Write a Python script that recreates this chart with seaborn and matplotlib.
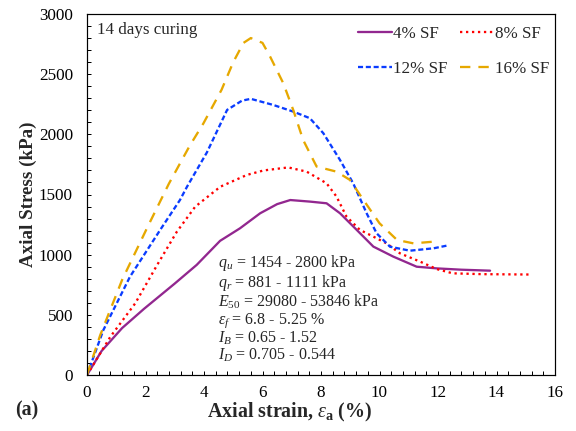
import numpy as np
import pandas as pd
import matplotlib
matplotlib.use("Agg")
import matplotlib.pyplot as plt
from matplotlib.ticker import MultipleLocator
import seaborn as sns

# Stress-strain curves, 14 days curing
strain_4 = [0, 0.5, 1.2, 1.95, 3.0, 3.75, 4.55, 5.23, 5.92, 6.5, 6.95, 7.62, 8.19, 8.65, 9.22, 9.79, 10.47, 11.27, 11.96, 12.8, 13.78]
stress_4 = [0, 200, 390, 550, 760, 915, 1115, 1219, 1344, 1420, 1454, 1441, 1427, 1344, 1206, 1067, 984, 900, 886, 875, 867]

strain_8 = [0, 0.8, 1.65, 2.4, 3.07, 3.7, 4.56, 5.47, 6.04, 6.88, 7.51, 8.19, 8.53, 8.87, 9.33, 9.79, 10.24, 10.7, 11.39, 11.96, 12.5, 13.5, 15.15]
stress_8 = [0, 318, 596, 915, 1190, 1399, 1565, 1663, 1700, 1725, 1690, 1593, 1483, 1317, 1206, 1150, 1094, 1011, 942, 880, 845, 838, 835]

strain_12 = [0, 0.56, 1.47, 2.5, 3.18, 3.42, 4.1, 4.79, 5.3, 5.6, 6.37, 7.05, 7.62, 8.08, 8.65, 9.1, 9.56, 9.9, 10.36, 11.04, 11.85, 12.3]
stress_12 = [0, 374, 817, 1205, 1455, 1565, 1850, 2203, 2280, 2295, 2244, 2189, 2134, 2009, 1787, 1593, 1344, 1178, 1066, 1033, 1053, 1075]

strain_16 = [0, 0.45, 1.2, 2.07, 2.8, 3.5, 3.98, 4.6, 5.0, 5.35, 5.6, 6.0, 6.26, 6.71, 7.05, 7.39, 7.85, 8.53, 8.99, 9.45, 10.0, 10.6, 11.16, 11.85, 12.0]
stress_16 = [0, 330, 790, 1230, 1590, 1900, 2091, 2370, 2600, 2760, 2800, 2760, 2646, 2425, 2203, 1953, 1732, 1690, 1621, 1455, 1261, 1122, 1094, 1108, 1111]

labels = ["4% SF", "8% SF", "12% SF", "16% SF"]
colors = ["#92278F", "#FF0000", "#0A3CFF", "#E6A800"]

summary = [
    r"$q_u$ = 1454 - 2800 kPa",
    r"$q_r$ = 881 - 1111 kPa",
    r"$E_{50}$ = 29080 - 53846 kPa",
    r"$\varepsilon_f$ = 6.8 - 5.25 %",
    r"$I_B$ = 0.65 - 1.52",
    r"$I_D$ = 0.705 - 0.544",
]

sns.set_style("ticks")
plt.rcParams["font.family"] = ["Liberation Serif", "DejaVu Serif"]
plt.rcParams["mathtext.fontset"] = "custom"
plt.rcParams["mathtext.rm"] = "Liberation Serif"
plt.rcParams["mathtext.it"] = "Liberation Serif:italic"
plt.rcParams["mathtext.bf"] = "Liberation Serif:bold"

fig = plt.figure(figsize=(8, 431 / 72), dpi=72)
ax = fig.add_axes([87 / 576, 1 - 375 / 431, (555 - 87) / 576, (375 - 14) / 431])

series = [(strain_4, stress_4), (strain_8, stress_8), (strain_12, stress_12), (strain_16, stress_16)]
styles = [
    dict(linestyle="-", linewidth=2.3),
    dict(linestyle=(0, (1, 1.6)), linewidth=2.3),
    dict(linestyle=(0, (2.2, 1.2)), linewidth=2.3),
    dict(linestyle=(0, (4.5, 3.5)), linewidth=2.3),
]
for (xs, ys), lab, col, st in zip(series, labels, colors, styles):
    df = pd.DataFrame({"strain": xs, "stress": ys})
    sns.lineplot(data=df, x="strain", y="stress", ax=ax, color=col, label=lab,
                 sort=False, estimator=None, **st)
for ln in ax.get_lines():
    ln.set_solid_joinstyle("round")
    ln.set_dash_joinstyle("round")

ax.set_xlim(0, 16)
ax.set_ylim(0, 3000)
ax.xaxis.set_major_locator(MultipleLocator(2))
ax.xaxis.set_minor_locator(MultipleLocator(0.4))
ax.yaxis.set_major_locator(MultipleLocator(500))
ax.yaxis.set_minor_locator(MultipleLocator(100))
ax.tick_params(which="both", direction="in", length=4, width=1, colors="black",
               labelsize=17)
ax.tick_params(axis="x", pad=10)
ax.tick_params(axis="y", pad=14)
for sp in ax.spines.values():
    sp.set_linewidth(1.2)
    sp.set_color("black")

ax.set_xlabel(r"Axial strain, $\varepsilon_\mathbf{a}$ (%)", fontsize=20, fontweight="bold", labelpad=0)
ax.xaxis.set_label_coords(0.434, -0.072)
ax.set_ylabel("Axial Stress (kPa)", fontsize=19, fontweight="bold", labelpad=2)

ax.text(0.022, 0.978, "14 days curing", transform=ax.transAxes, fontsize=17,
        va="top", ha="left")
fig.text(15 / 576, 1 - 410 / 431, "(a)", fontsize=20, fontweight="bold", va="center", ha="left")

# Summary of test parameters, one block of stacked lines
ax.text(4.48, 1010, "\n".join(summary), fontsize=16, va="top", ha="left",
        linespacing=0.98)

handles, labs = ax.get_legend_handles_labels()
order = [0, 2, 1, 3]
ax.legend([handles[i] for i in order], [labs[i] for i in order],
          loc="upper right", ncol=2, frameon=False, fontsize=17, handlelength=2.0,
          handletextpad=0.1, columnspacing=0.7, labelspacing=1.1,
          bbox_to_anchor=(1.01, 0.995), borderaxespad=0.2)

fig.savefig("out.png", dpi=72)
